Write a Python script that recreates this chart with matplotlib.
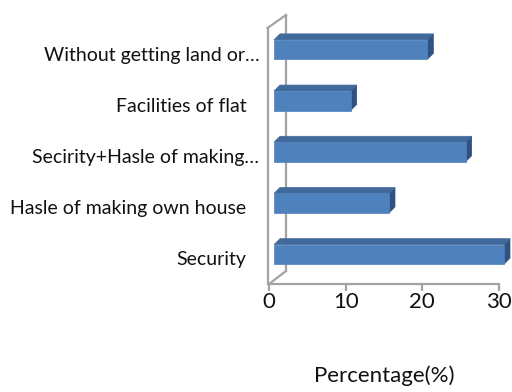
import matplotlib
matplotlib.use("Agg")
import matplotlib.pyplot as plt
from matplotlib.patches import Polygon
from matplotlib.lines import Line2D
from matplotlib.transforms import ScaledTranslation
import numpy as np

categories = [
    "Security",
    "Hasle of making own house",
    "Secirity+Hasle of making\u2026",
    "Facilities of flat",
    "Without getting land or\u2026",
]
values = [30, 15, 25, 10, 20]
x_ticks = [0, 10, 20, 30]
x_label = "Percentage(%)"

plt.rcParams["font.family"] = ["Lato", "DejaVu Sans"]

DPI = 100
fig = plt.figure(figsize=(5.12, 3.92), dpi=DPI)
W, H = 512, 392
ax = fig.add_axes([269 / W, (H - 284) / H, 230 / W, 256 / H])

ax.set_xlim(0, 30)
ax.set_ylim(-0.5, 4.5)

wall = "#a3a3a3"
front_col = "#4f81bd"
top_col = "#41699b"
side_col = "#2f5283"
text_col = "#111111"

for s in ("top", "right", "left"):
    ax.spines[s].set_visible(False)
ax.spines["bottom"].set_color(wall)
ax.spines["bottom"].set_linewidth(1.6)

ax.set_xticks(x_ticks)
ax.set_xticklabels([str(t) for t in x_ticks], fontsize=16, color=text_col)
ax.tick_params(axis="x", direction="out", length=5, width=1.6, color=wall, pad=0.5)
ax.set_xlabel(x_label, fontsize=16, labelpad=39, color=text_col)

ypos = np.arange(len(categories))
ax.set_yticks(ypos)
ax.set_yticklabels(categories, fontsize=14, color=text_col)
ax.tick_params(axis="y", length=0, pad=7)
# shorter labels sit a little further from the wall
for lab, txt in zip(ax.get_yticklabels(), categories):
    if not txt.endswith("\u2026"):
        lab.set_transform(lab.get_transform() + ScaledTranslation(-13 / DPI, 0, fig.dpi_scale_trans))

# 3D projection offsets in pixels
wall_dx, wall_dy = 17, 13      # depth of the chart box
bar_off_x, bar_off_y = 5, 4    # bars sit partway into the depth
bar_dx, bar_dy = 6, 6          # depth of each bar
bar_h = 0.38

T = ax.transData

# side wall edges
x0, yb = T.transform((0, -0.5))
_, yt = T.transform((0, 4.5))
wall_lines = [
    [(x0 - 1.5, yt), (x0 - 1.5, yb)],
    [(x0 + wall_dx, yt + wall_dy), (x0 + wall_dx, yb + wall_dy)],
    [(x0 - 1.5, yt), (x0 + wall_dx, yt + wall_dy)],
    [(x0, yb), (x0 + wall_dx, yb + wall_dy)],
]
for seg in wall_lines:
    xs, ys = zip(*seg)
    fig.add_artist(Line2D(xs, ys, transform=None, color=wall, lw=1.6,
                          solid_capstyle="projecting", zorder=2))

# 3D bars
for y, v in zip(ypos, values):
    (ax0, ay0) = T.transform((0, y - bar_h / 2))
    (ax1, ay1) = T.transform((v, y + bar_h / 2))
    ax0 += bar_off_x; ax1 += bar_off_x
    ay0 += bar_off_y; ay1 += bar_off_y
    front = [(ax0, ay0), (ax1, ay0), (ax1, ay1), (ax0, ay1)]
    top = [(ax0, ay1), (ax1, ay1), (ax1 + bar_dx, ay1 + bar_dy), (ax0 + bar_dx, ay1 + bar_dy)]
    side = [(ax1, ay0), (ax1 + bar_dx, ay0 + bar_dy), (ax1 + bar_dx, ay1 + bar_dy), (ax1, ay1)]
    for pts, c in ((side, side_col), (top, top_col), (front, front_col)):
        fig.add_artist(Polygon(pts, closed=True, transform=None, facecolor=c,
                               edgecolor=c, lw=0.5, zorder=3))

fig.savefig("out.png", dpi=DPI, facecolor="white")
